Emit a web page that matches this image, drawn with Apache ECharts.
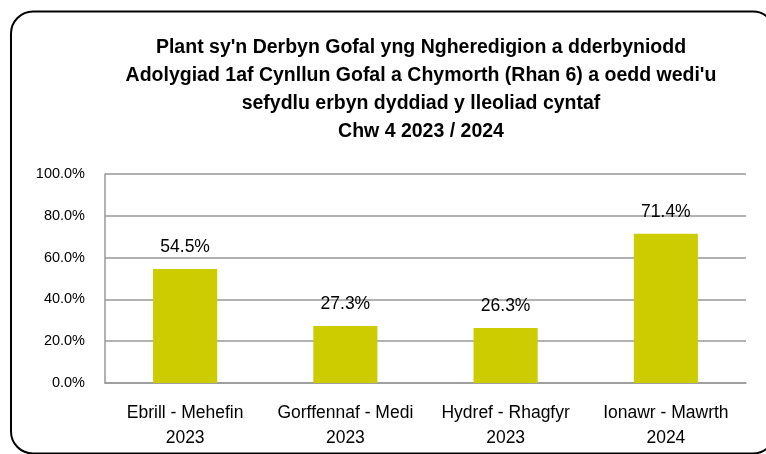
<!DOCTYPE html>
<html>
<head>
<meta charset="utf-8">
<script src="https://cdn.jsdelivr.net/npm/echarts@6/dist/echarts.min.js"></script>
<style>
  html, body { margin: 0; padding: 0; background: #fff; }
  #chart { width: 766px; height: 454px; }
</style>
</head>
<body>
<div id="chart"></div>
<script>
// categories / values
var categories = ['Ebrill - Mehefin\n2023', 'Gorffennaf - Medi\n2023', 'Hydref - Rhagfyr\n2023', 'Ionawr - Mawrth\n2024'];
var values = [54.5, 27.3, 26.3, 71.4];
var titleText = "Plant sy'n Derbyn Gofal yng Ngheredigion a dderbyniodd\nAdolygiad 1af Cynllun Gofal a Chymorth (Rhan 6) a oedd wedi'u\nsefydlu erbyn dyddiad y lleoliad cyntaf\nChw 4 2023 / 2024";

var font = "'Liberation Sans', Arial, sans-serif";
var gridColor = '#999';

var chart = echarts.init(document.getElementById('chart'));
var option = {
  animation: false,
  backgroundColor: '#fff',
  title: {
    text: titleText,
    left: 421,
    top: 34,
    textAlign: 'center',
    padding: 0,
    textStyle: {
      fontFamily: font,
      fontSize: 19.5,
      fontWeight: 'bold',
      lineHeight: 28,
      color: '#000'
    }
  },
  graphic: [{
    type: 'rect',
    shape: { x: 11, y: 11.5, width: 764, height: 442, r: 22 },
    style: { fill: 'none', stroke: '#000', lineWidth: 2 },
    silent: true
  }],
  grid: { left: 105, right: 20, top: 174, bottom: 71 },
  xAxis: {
    type: 'category',
    data: categories,
    axisLine: { show: true, lineStyle: { color: gridColor, width: 1.5 } },
    axisTick: { show: false },
    axisLabel: {
      interval: 0,
      margin: 18,
      fontFamily: font,
      fontSize: 17.5,
      lineHeight: 25,
      color: '#000'
    }
  },
  yAxis: {
    type: 'value',
    min: 0,
    max: 100,
    interval: 20,
    axisLine: { show: true, lineStyle: { color: gridColor, width: 1.5 } },
    axisTick: { show: false },
    splitLine: { lineStyle: { color: gridColor, width: 1.5 } },
    axisLabel: {
      margin: 20,
      fontFamily: font,
      fontSize: 14.5,
      color: '#000',
      formatter: function (v) { return v.toFixed(1) + '%'; }
    }
  },
  series: [{
    type: 'bar',
    data: values,
    barWidth: '40%',
    itemStyle: { color: '#CCCC00' },
    label: {
      show: true,
      position: 'top',
      distance: 13,
      fontFamily: font,
      fontSize: 17.5,
      color: '#000',
      formatter: function (p) { return p.value.toFixed(1) + '%'; }
    }
  }]
};
chart.setOption(option);
</script>
</body>
</html>
